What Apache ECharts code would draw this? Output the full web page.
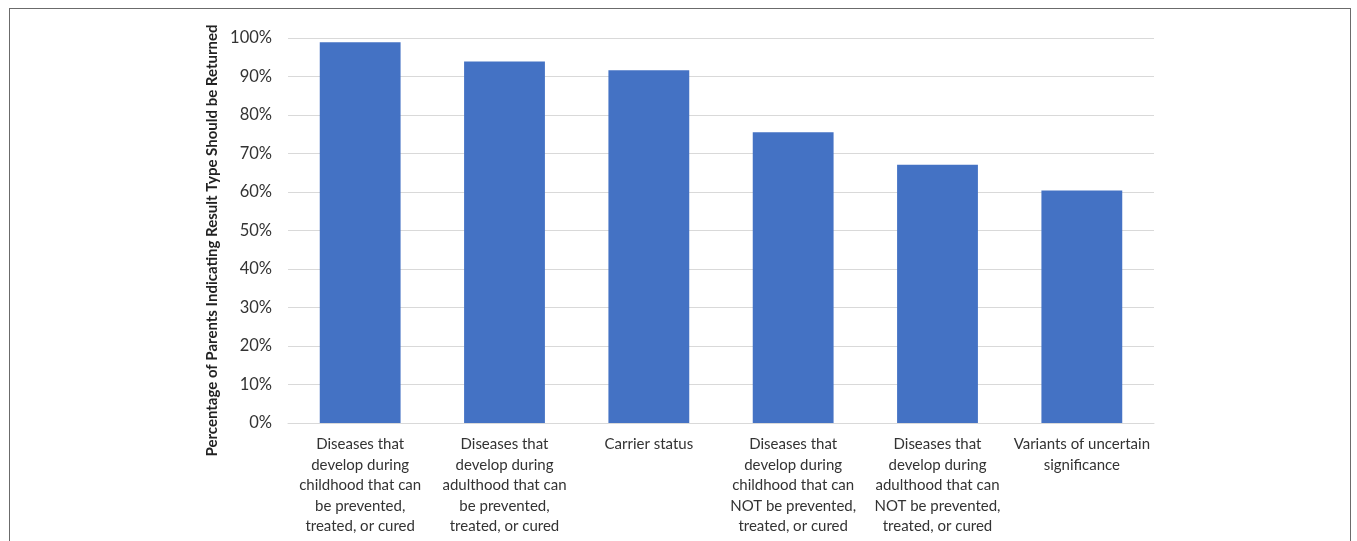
<!DOCTYPE html>
<html><head><meta charset="utf-8">
<script src="https://cdn.jsdelivr.net/npm/echarts@6/dist/echarts.min.js"></script>
<style>
html,body{margin:0;padding:0;background:#fff;}
#frame{position:absolute;left:9px;top:8px;width:1342px;height:560px;border:1px solid #6b6b6b;box-sizing:border-box;}
#chart{position:absolute;left:0;top:0;width:1357px;height:541px;}
</style></head>
<body>
<div id="frame"></div>
<div id="chart"></div>
<script>
const categories = [
  "Diseases that\ndevelop during\nchildhood that can\nbe prevented,\ntreated, or cured",
  "Diseases that\ndevelop during\nadulthood that can\nbe prevented,\ntreated, or cured",
  "Carrier status",
  "Diseases that\ndevelop during\nchildhood that can\nNOT be prevented,\ntreated, or cured",
  "Diseases that\ndevelop during\nadulthood that can\nNOT be prevented,\ntreated, or cured",
  "Variants of uncertain\nsignificance"
];
const values = [98.9, 93.9, 91.6, 75.5, 67.1, 60.4];
const yTicks = [0, 10, 20, 30, 40, 50, 60, 70, 80, 90, 100];
const yAxisTitle = "Percentage of Parents Indicating Result Type Should be Returned";

const chart = echarts.init(document.getElementById('chart'), null, {renderer: 'canvas'});
chart.setOption({
  animation: false,
  grid: {left: 288, right: 203, top: 38, bottom: 118, containLabel: false},
  xAxis: {
    type: 'category',
    data: categories,
    axisLine: {show: true, lineStyle: {color: '#d9d9d9', width: 1}},
    axisTick: {show: false},
    axisLabel: {interval: 0, margin: 11, color: '#333', fontFamily: 'Lato', fontSize: 15, lineHeight: 20.5, align: 'center', verticalAlign: 'top'}
  },
  yAxis: {
    type: 'value',
    min: yTicks[0], max: yTicks[yTicks.length - 1], interval: 10,
    name: yAxisTitle,
    nameLocation: 'middle', nameGap: 61, nameRotate: 90,
    nameTextStyle: {color: '#222', fontFamily: 'Lato', fontSize: 15, fontWeight: 'bold', padding: [0, 20, 0, 0]},
    axisLine: {show: false}, axisTick: {show: false},
    axisLabel: {margin: 16, color: '#333', fontFamily: 'Lato', fontSize: 16.5, formatter: v => v + '%'},
    splitLine: {lineStyle: {color: '#d9d9d9', width: 1}}
  },
  series: [{
    type: 'bar',
    data: values,
    barCategoryGap: '44%',
    itemStyle: {color: '#4472C4'}
  }]
});
</script>
</body></html>
